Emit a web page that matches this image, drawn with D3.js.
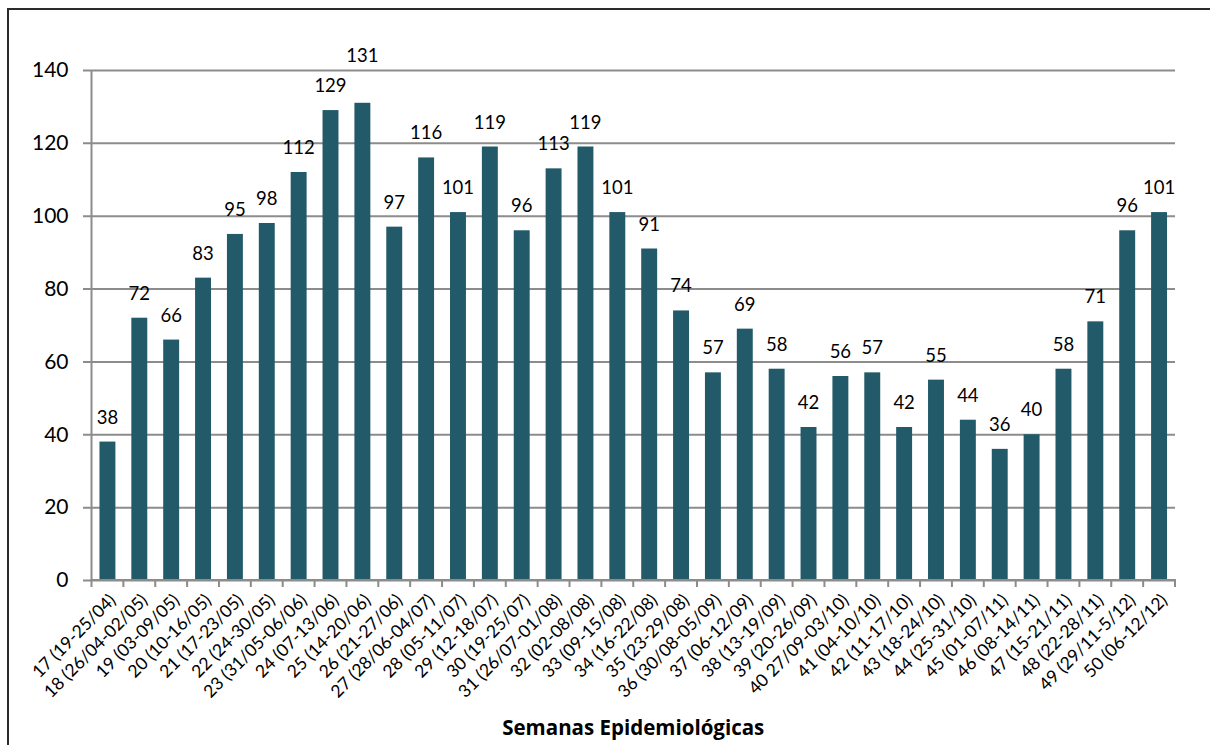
<!DOCTYPE html>
<html>
<head>
<meta charset="utf-8">
<script src="https://cdn.jsdelivr.net/npm/d3@7"></script>
<style>
  html, body { margin: 0; padding: 0; background: #fff; }
  svg { display: block; }
</style>
</head>
<body>
<svg id="chart" width="1210" height="745"></svg>
<script>
// Weekly case counts per epidemiological week
const weeks = [
  "17 (19-25/04)", "18 (26/04-02/05)", "19 (03-09/05)", "20 (10-16/05)",
  "21 (17-23/05)", "22 (24-30/05)", "23 (31/05-06/06)", "24 (07-13/06)",
  "25 (14-20/06)", "26 (21-27/06)", "27 (28/06-04/07)", "28 (05-11/07)",
  "29 (12-18/07)", "30 (19-25/07)", "31 (26/07-01/08)", "32 (02-08/08)",
  "33 (09-15/08)", "34 (16-22/08)", "35 (23-29/08)", "36 (30/08-05/09)",
  "37 (06-12/09)", "38 (13-19/09)", "39 (20-26/09)", "40 27/09-03/10)",
  "41 (04-10/10)", "42 (11-17/10)", "43 (18-24/10)", "44 (25-31/10)",
  "45 (01-07/11)", "46 (08-14/11)", "47 (15-21/11)", "48 (22-28/11)",
  "49 (29/11-5/12)", "50 (06-12/12)"
];
const cases = [
  38, 72, 66, 83, 95, 98, 112, 129, 131, 97, 116, 101, 119, 96, 113, 119,
  101, 91, 74, 57, 69, 58, 42, 56, 57, 42, 55, 44, 36, 40, 58, 71, 96, 101
];
const yTicks = [0, 20, 40, 60, 80, 100, 120, 140];
const xTitle = "Semanas Epidemiológicas";

const svg = d3.select("#chart");
const plotLeft = 91.5, plotRight = 1175, plotTop = 70, plotBottom = 580;
const barColor = "#225a69";
const gridColor = "#8c8c8c";
const font = "Lato, 'Open Sans', sans-serif";

// outer frame (runs past the right and bottom edges)
svg.append("rect")
  .attr("x", 8).attr("y", 9)
  .attr("width", 1250).attr("height", 800)
  .attr("fill", "none").attr("stroke", "#2b2b2b").attr("stroke-width", 2);

const x = d3.scaleBand()
  .domain(weeks)
  .range([plotLeft, plotRight])
  .paddingInner(0.5)
  .paddingOuter(0.25);

const y = d3.scaleLinear().domain([0, 140]).range([plotBottom, plotTop]);

// horizontal gridlines with left tick stubs
const yAxis = d3.axisLeft(y)
  .tickValues(yTicks)
  .tickSize(-(plotRight - plotLeft))
  .tickSizeOuter(0)
  .tickPadding(14)
  .tickFormat(d3.format("d"));

const gy = svg.append("g")
  .attr("transform", `translate(${plotLeft},0)`)
  .call(yAxis);
gy.select(".domain").remove();
gy.selectAll(".tick line")
  .attr("x1", -8.5)
  .attr("stroke", gridColor).attr("stroke-width", 2);
gy.selectAll(".tick text")
  .attr("x", -23)
  .attr("fill", "#000")
  .style("font-family", font)
  .style("font-size", "21px");

// vertical axis line
svg.append("line")
  .attr("x1", plotLeft).attr("x2", plotLeft)
  .attr("y1", plotTop).attr("y2", plotBottom + 1)
  .attr("stroke", gridColor).attr("stroke-width", 2);

// bars
svg.append("g")
  .selectAll("rect")
  .data(cases)
  .join("rect")
  .attr("x", (d, i) => x(weeks[i]))
  .attr("y", d => y(d))
  .attr("width", x.bandwidth())
  .attr("height", d => y(0) - y(d))
  .attr("fill", barColor);

// value labels; the peak label sits a little higher
const peak = d3.max(cases);
svg.append("g")
  .selectAll("text")
  .data(cases)
  .join("text")
  .attr("x", (d, i) => x(weeks[i]) + x.bandwidth() / 2)
  .attr("y", d => y(d) - (d === peak ? 41 : 18))
  .attr("text-anchor", "middle")
  .style("font-family", font)
  .style("font-size", "18.5px")
  .attr("fill", "#000")
  .text(d => d);

// category axis: baseline with boundary ticks
svg.append("line")
  .attr("x1", plotLeft - 1).attr("x2", plotRight + 1)
  .attr("y1", plotBottom).attr("y2", plotBottom)
  .attr("stroke", gridColor).attr("stroke-width", 2);

const step = x.step();
const bounds = d3.range(weeks.length + 1).map(i => plotLeft + i * step);
svg.append("g")
  .selectAll("line")
  .data(bounds)
  .join("line")
  .attr("x1", d => d).attr("x2", d => d)
  .attr("y1", plotBottom).attr("y2", plotBottom + 7)
  .attr("stroke", gridColor).attr("stroke-width", 2);

// rotated week labels
svg.append("g")
  .selectAll("text")
  .data(weeks)
  .join("text")
  .attr("transform", d => `translate(${x(d) + x.bandwidth() / 2 + 5},${plotBottom + 17}) rotate(-45)`)
  .attr("text-anchor", "end")
  .attr("dy", "0.35em")
  .style("font-family", font)
  .style("font-size", "17.5px")
  .attr("fill", "#000")
  .text(d => d);

// axis title
svg.append("text")
  .attr("x", (plotLeft + plotRight) / 2)
  .attr("y", 735)
  .attr("text-anchor", "middle")
  .style("font-family", "'Open Sans', Lato, sans-serif")
  .style("font-weight", "bold")
  .style("font-size", "20.5px")
  .attr("fill", "#000")
  .text(xTitle);
</script>
</body>
</html>
